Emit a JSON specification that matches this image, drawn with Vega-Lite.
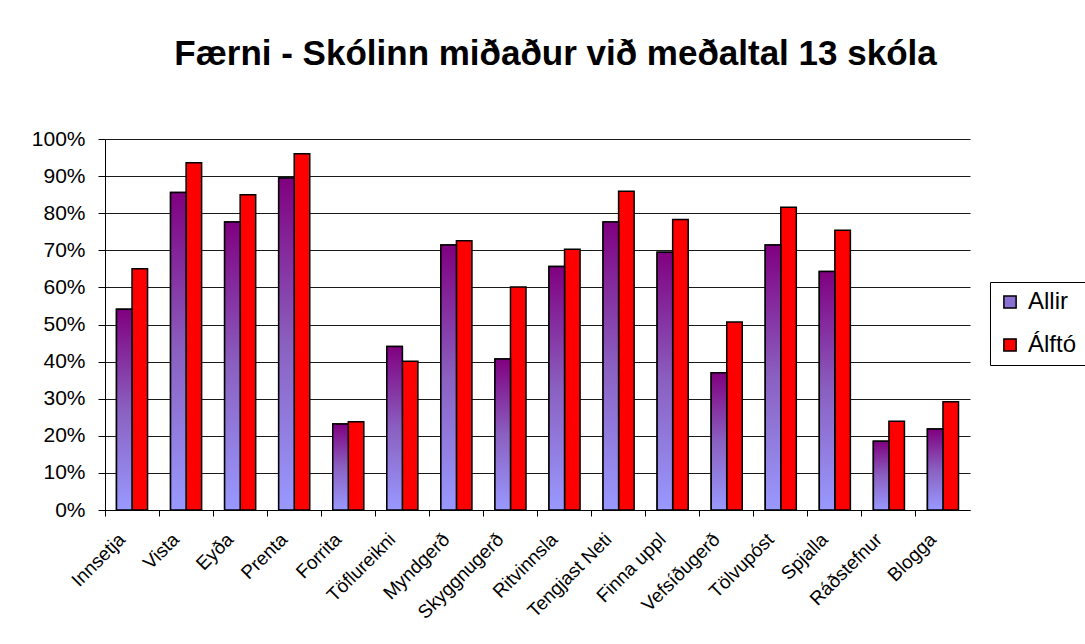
{
  "$schema": "https://vega.github.io/schema/vega-lite/v6.json",
  "width": 865,
  "height": 371,
  "autosize": {"type": "none"},
  "padding": {"left": 105, "top": 139, "right": 115, "bottom": 134},
  "background": "white",
  "title": {
    "text": "Færni - Skólinn miðaður við meðaltal 13 skóla",
    "font": "Liberation Sans",
    "fontSize": 35,
    "fontWeight": "bold",
    "color": "black",
    "anchor": "middle",
    "frame": "group",
    "dx": 18,
    "baseline": "alphabetic",
    "offset": 28
  },
  "data": {
    "values": [
      {"skill": "Innsetja", "group": "Allir", "value": 0.541},
      {"skill": "Innsetja", "group": "Álftó", "value": 0.650},
      {"skill": "Vista", "group": "Allir", "value": 0.856},
      {"skill": "Vista", "group": "Álftó", "value": 0.936},
      {"skill": "Eyða", "group": "Allir", "value": 0.776},
      {"skill": "Eyða", "group": "Álftó", "value": 0.850},
      {"skill": "Prenta", "group": "Allir", "value": 0.895},
      {"skill": "Prenta", "group": "Álftó", "value": 0.960},
      {"skill": "Forrita", "group": "Allir", "value": 0.232},
      {"skill": "Forrita", "group": "Álftó", "value": 0.238},
      {"skill": "Töflureikni", "group": "Allir", "value": 0.441},
      {"skill": "Töflureikni", "group": "Álftó", "value": 0.401},
      {"skill": "Myndgerð", "group": "Allir", "value": 0.714},
      {"skill": "Myndgerð", "group": "Álftó", "value": 0.726},
      {"skill": "Skyggnugerð", "group": "Allir", "value": 0.407},
      {"skill": "Skyggnugerð", "group": "Álftó", "value": 0.601},
      {"skill": "Ritvinnsla", "group": "Allir", "value": 0.656},
      {"skill": "Ritvinnsla", "group": "Álftó", "value": 0.703},
      {"skill": "Tengjast Neti", "group": "Allir", "value": 0.776},
      {"skill": "Tengjast Neti", "group": "Álftó", "value": 0.859},
      {"skill": "Finna uppl", "group": "Allir", "value": 0.695},
      {"skill": "Finna uppl", "group": "Álftó", "value": 0.783},
      {"skill": "Vefsíðugerð", "group": "Allir", "value": 0.370},
      {"skill": "Vefsíðugerð", "group": "Álftó", "value": 0.507},
      {"skill": "Tölvupóst", "group": "Allir", "value": 0.714},
      {"skill": "Tölvupóst", "group": "Álftó", "value": 0.816},
      {"skill": "Spjalla", "group": "Allir", "value": 0.643},
      {"skill": "Spjalla", "group": "Álftó", "value": 0.754},
      {"skill": "Ráðstefnur", "group": "Allir", "value": 0.185},
      {"skill": "Ráðstefnur", "group": "Álftó", "value": 0.239},
      {"skill": "Blogga", "group": "Allir", "value": 0.218},
      {"skill": "Blogga", "group": "Álftó", "value": 0.292}
    ]
  },
  "encoding": {
    "x": {
      "field": "skill",
      "type": "nominal",
      "sort": null,
      "scale": {"paddingInner": 0, "paddingOuter": 0},
      "axis": {
        "title": null,
        "labelAngle": -45,
        "labelAlign": "right",
        "labelBaseline": "middle",
        "labelFont": "Liberation Sans",
        "labelFontSize": 19,
        "labelColor": "black",
        "labelPadding": 20,
        "labelOffset": -10,
        "bandPosition": 0,
        "tickSize": 6,
        "tickColor": "black",
        "domainColor": "black",
        "grid": false
      }
    },
    "xOffset": {
      "field": "group",
      "type": "nominal",
      "scale": {"domain": ["Allir", "Álftó"], "paddingInner": 0, "paddingOuter": 0.74}
    },
    "y": {
      "field": "value",
      "type": "quantitative",
      "scale": {"domain": [0, 1], "nice": false},
      "axis": {
        "title": null,
        "format": ".0%",
        "values": [0, 0.1, 0.2, 0.3, 0.4, 0.5, 0.6, 0.7, 0.8, 0.9, 1],
        "labelFont": "Liberation Sans",
        "labelFontSize": 21,
        "labelColor": "black",
        "labelPadding": 13,
        "tickSize": 7,
        "tickColor": "black",
        "domainColor": "black",
        "grid": true,
        "gridColor": "#1a1a1a",
        "gridWidth": 1
      }
    }
  },
  "layer": [
    {
      "mark": {"type": "bar", "stroke": "black", "strokeWidth": 1.5},
      "encoding": {
        "color": {
          "field": "group",
          "type": "nominal",
          "scale": {"domain": ["Allir", "Álftó"], "range": ["#8a70d0", "#ff0000"]},
          "legend": {
            "title": null,
            "orient": "none",
            "legendX": 885,
            "legendY": 143,
            "symbolType": "square",
            "symbolSize": 150,
            "symbolStrokeColor": "black",
            "symbolStrokeWidth": 1.5,
            "symbolOpacity": 1,
            "labelFont": "Liberation Sans",
            "labelFontSize": 24,
            "labelColor": "black",
            "labelOffset": 6,
            "rowPadding": 19,
            "padding": 8,
            "strokeColor": "black",
            "fillColor": "white",
            "encode": {
              "symbols": {
                "enter": {
                  "stroke": {"value": "black"},
                  "strokeWidth": {"value": 1.5}
                },
                "update": {
                  "fill": [
                    {"test": "datum.value === 'Allir'", "value": {"gradient": "linear", "x1": 0, "y1": 0, "x2": 0, "y2": 1, "stops": [{"offset": 0, "color": "#800080"}, {"offset": 1, "color": "#9999ff"}]}},
                    {"value": "#ff0000"}
                  ],
                  "stroke": {"value": "black"},
                  "strokeWidth": {"value": 1.5}
                }
              }
            }
          }
        }
      }
    },
    {
      "transform": [{"filter": "datum.group === 'Allir'"}],
      "mark": {
        "type": "bar",
        "stroke": "black",
        "strokeWidth": 1.5,
        "fill": {"gradient": "linear", "x1": 0, "y1": 0, "x2": 0, "y2": 1,
                 "stops": [{"offset": 0, "color": "#800080"}, {"offset": 0.5, "color": "#8a60c0"}, {"offset": 1, "color": "#9999ff"}]}
      }
    }
  ],
  "config": {
    "view": {"stroke": null},
    "axis": {"domainWidth": 1, "tickWidth": 1}
  }
}
